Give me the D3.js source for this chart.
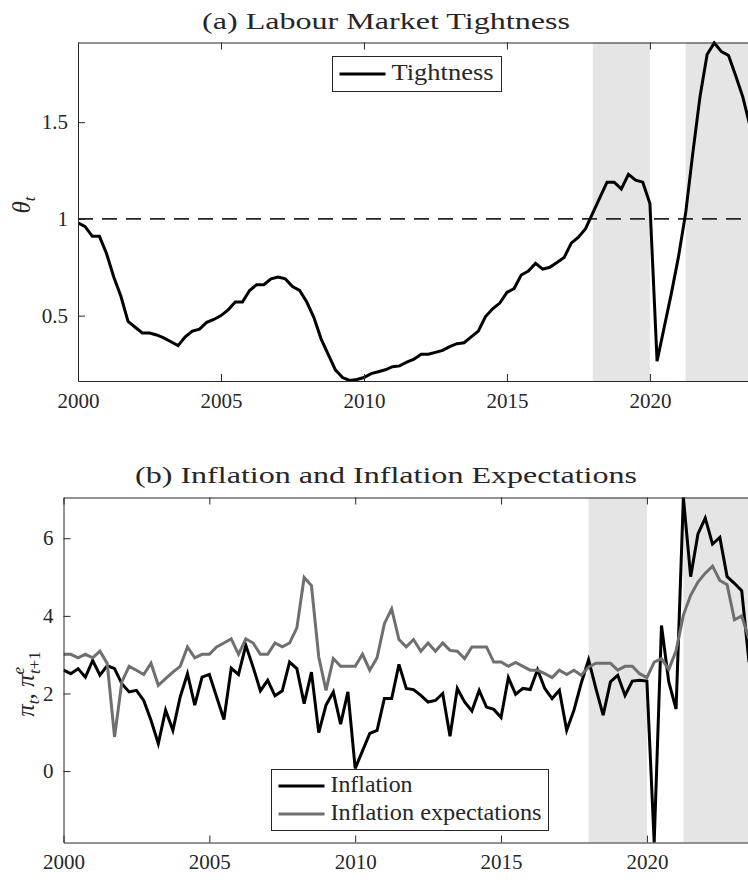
<!DOCTYPE html>
<html>
<head>
<meta charset="utf-8">
<script src="https://cdn.jsdelivr.net/npm/d3@7"></script>
<style>
  body { margin: 0; background: #fff; }
  svg { display: block; }
  text { font-family: "Liberation Serif", serif; fill: #262626; }
</style>
</head>
<body>
<svg id="chart" width="748" height="880"></svg>
<script>
// quarterly data, 2000Q1 .. 2023Q3
const startYear = 2000

const tightness = [
  0.98, 0.96, 0.91, 0.91, 0.82, 0.70, 0.60, 0.47,
  0.44, 0.41, 0.41, 0.40, 0.385, 0.365, 0.345, 0.39,
  0.42, 0.43, 0.465, 0.48, 0.50, 0.53, 0.57, 0.57,
  0.63, 0.66, 0.66, 0.69, 0.70, 0.69, 0.65, 0.63,
  0.57, 0.49, 0.38, 0.30, 0.22, 0.18, 0.165, 0.17,
  0.18, 0.20, 0.21, 0.22, 0.236, 0.24, 0.26, 0.275,
  0.30, 0.30, 0.31, 0.32, 0.34, 0.355, 0.36, 0.39,
  0.42, 0.495, 0.535, 0.565, 0.62, 0.64, 0.71, 0.73,
  0.77, 0.74, 0.75, 0.775, 0.80, 0.875, 0.905, 0.95,
  1.03, 1.11, 1.19, 1.19, 1.155, 1.23, 1.20, 1.19,
  1.08, 0.265, 0.44, 0.615, 0.805, 1.03, 1.34, 1.63,
  1.85, 1.91, 1.865, 1.845, 1.74, 1.63, 1.48
]

const inflation = [
  2.60, 2.51, 2.64, 2.42, 2.85, 2.47, 2.72, 2.64,
  2.25, 2.04, 2.08, 1.82, 1.31, 0.71, 1.57, 1.05,
  1.91, 2.51, 1.70, 2.42, 2.49, 1.91, 1.33, 2.65,
  2.49, 3.24, 2.68, 2.07, 2.34, 1.94, 2.07, 2.81,
  2.64, 1.74, 2.55, 0.99, 1.70, 2.04, 1.21, 2.04,
  0.07, 0.52, 0.97, 1.05, 1.87, 1.87, 2.75, 2.13,
  2.10, 1.95, 1.78, 1.82, 2.00, 0.90, 2.13, 1.78,
  1.55, 2.08, 1.65, 1.59, 1.38, 2.41, 1.98, 2.13,
  2.10, 2.61, 2.13, 1.87, 2.08, 1.05, 1.57, 2.27,
  2.87, 2.13, 1.44, 2.30, 2.47, 1.95, 2.32, 2.34,
  2.32, -1.84, 3.75, 2.30, 1.60, 7.05, 5.01, 6.11,
  6.52, 5.85, 6.02, 5.01, 4.84, 4.65, 2.81
]

const expectations = [
  3.01, 3.01, 2.92, 3.01, 2.92, 3.09, 2.77, 0.88,
  2.30, 2.70, 2.60, 2.49, 2.78, 2.21, 2.38, 2.55,
  2.70, 3.20, 2.92, 3.01, 3.01, 3.20, 3.30, 3.41,
  3.01, 3.41, 3.30, 3.01, 3.01, 3.30, 3.20, 3.30,
  3.69, 4.99, 4.78, 2.94, 2.08, 2.90, 2.70, 2.70,
  2.70, 3.01, 2.60, 2.92, 3.80, 4.18, 3.39, 3.20,
  3.39, 3.09, 3.30, 3.09, 3.30, 3.11, 3.09, 2.90,
  3.20, 3.20, 3.20, 2.81, 2.81, 2.70, 2.80, 2.70,
  2.60, 2.60, 2.51, 2.41, 2.60, 2.49, 2.60, 2.47,
  2.68, 2.78, 2.78, 2.78, 2.60, 2.70, 2.70, 2.51,
  2.41, 2.81, 2.90, 2.62, 3.10, 4.02, 4.53, 4.87,
  5.10, 5.28, 4.91, 4.80, 3.90, 4.00, 3.40
]

const dates = tightness.map((d, i) => startYear + i / 4)

// periods with tightness above one
const shadeStart = [2018, 2021.25]
const shadeEnd = [2020, 2023.5]

const xTicks = [2000, 2005, 2010, 2015, 2020]
const yTicksA = [0.5, 1, 1.5]
const yTicksB = [0, 2, 4, 6]

const svg = d3.select('#chart')
const axisColor = '#262626'

let drawPanel = (opt) => {
  const x = d3.scaleLinear().domain([2000, 2023.5]).range([opt.left, opt.right])
  const y = d3.scaleLinear().domain(opt.yDomain).range([opt.bottom, opt.top])
  const g = svg.append('g')

  const clipId = 'clip-' + opt.id
  g.append('clipPath').attr('id', clipId)
    .append('rect')
    .attr('x', opt.left).attr('y', opt.top - 2)
    .attr('width', opt.right - opt.left).attr('height', opt.bottom - opt.top + 4)

  g.selectAll('rect.shade')
    .data(shadeStart.map((s, i) => [s, shadeEnd[i]]))
    .enter()
    .append('rect')
    .attr('class', 'shade')
    .attr('x', d => x(d[0]))
    .attr('y', opt.top)
    .attr('width', d => x(d[1]) - x(d[0]))
    .attr('height', opt.bottom - opt.top)
    .attr('fill', '#e5e5e5')

  const plot = g.append('g').attr('clip-path', `url(#${clipId})`)

  if (opt.refLine !== undefined) {
    plot.append('line')
      .attr('x1', opt.left).attr('x2', opt.right)
      .attr('y1', y(opt.refLine)).attr('y2', y(opt.refLine))
      .attr('stroke', '#262626')
      .attr('stroke-width', 1.8)
      .attr('stroke-dasharray', '15,9')
  }

  opt.series.forEach(s => {
    plot.append('path')
      .datum(s.values)
      .attr('fill', 'none')
      .attr('stroke', s.color)
      .attr('stroke-width', 3)
      .attr('d', d3.line().x((d, i) => x(dates[i])).y(d => y(d)))
  })

  // axes
  const bottomAxis = g.append('g')
    .attr('transform', `translate(0,${opt.bottom})`)
    .call(d3.axisBottom(x).tickValues(xTicks).tickFormat(d3.format('d'))
      .tickSizeInner(-7).tickSizeOuter(0).tickPadding(12))
  const topAxis = g.append('g')
    .attr('transform', `translate(0,${opt.top})`)
    .call(d3.axisTop(x).tickValues(xTicks).tickFormat('')
      .tickSizeInner(-7).tickSizeOuter(0))
  const leftAxis = g.append('g')
    .attr('transform', `translate(${opt.left},0)`)
    .call(d3.axisLeft(y).tickValues(opt.yTicks).tickFormat(d => String(d))
      .tickSizeInner(-7).tickSizeOuter(0).tickPadding(10))

  ;[bottomAxis, topAxis, leftAxis].forEach(a => {
    a.attr('font-family', null)
    a.select('.domain').attr('stroke', axisColor).attr('stroke-width', 1)
    a.selectAll('.tick line').attr('stroke', axisColor).attr('stroke-width', 1)
    a.selectAll('.tick text')
      .attr('fill', axisColor)
      .style('font-family', '"Liberation Serif", serif')
      .style('font-size', '21px')
  })

  // title, stretched to the reference width
  svg.append('text')
    .attr('x', 386).attr('y', opt.titleY)
    .attr('text-anchor', 'middle')
    .attr('textLength', opt.titleW)
    .attr('lengthAdjust', 'spacingAndGlyphs')
    .style('font-size', '24px')
    .text(opt.title)

  // legend
  const leg = svg.append('g')
  leg.append('rect')
    .attr('x', opt.legend.x).attr('y', opt.legend.y)
    .attr('width', opt.legend.w).attr('height', opt.legend.h)
    .attr('fill', '#fff').attr('stroke', axisColor).attr('stroke-width', 1)
  opt.series.forEach((s, i) => {
    const ly = opt.legend.y + opt.legend.rowY + i * opt.legend.rowH
    leg.append('line')
      .attr('x1', opt.legend.x + 7).attr('x2', opt.legend.x + 53)
      .attr('y1', ly).attr('y2', ly)
      .attr('stroke', s.color).attr('stroke-width', 3)
    leg.append('text')
      .attr('x', opt.legend.x + 59).attr('y', ly + 6)
      .attr('textLength', s.labelW)
      .attr('lengthAdjust', 'spacingAndGlyphs')
      .style('font-size', '23px')
      .text(s.name)
  })
}

drawPanel({
  id: 'a', left: 78, right: 750, top: 42.5, bottom: 381,
  yDomain: [0.162, 1.912], yTicks: yTicksA, refLine: 1,
  title: '(a) Labour Market Tightness', titleY: 29, titleW: 368,
  series: [{ name: 'Tightness', values: tightness, color: '#000', labelW: 102 }],
  legend: { x: 332.5, y: 56.5, w: 169, h: 35, rowY: 17.5, rowH: 0 }
})

drawPanel({
  id: 'b', left: 63.5, right: 749, top: 497.5, bottom: 842.5,
  yDomain: [-1.84, 7.05], yTicks: yTicksB,
  title: '(b) Inflation and Inflation Expectations', titleY: 483, titleW: 502,
  series: [
    { name: 'Inflation', values: inflation, color: '#000', labelW: 82 },
    { name: 'Inflation expectations', values: expectations, color: '#6f6f6f', labelW: 211 }
  ],
  legend: { x: 271.5, y: 769.5, w: 277, h: 61, rowY: 16.5, rowH: 28 }
})

// y labels
const yl1 = svg.append('text')
  .attr('transform', 'translate(30,205) rotate(-90)')
  .attr('text-anchor', 'middle')
yl1.append('tspan').style('font-style', 'italic').style('font-size', '25px').text('θ')
yl1.append('tspan').style('font-style', 'italic').style('font-size', '17px').attr('dy', 5).text('t')

const yl2 = svg.append('text')
  .attr('transform', 'translate(34,684) rotate(-90)')
  .attr('text-anchor', 'middle')
yl2.append('tspan').style('font-style', 'italic').style('font-size', '25px').text('π')
yl2.append('tspan').style('font-style', 'italic').style('font-size', '17px').attr('dy', 5).text('t')
yl2.append('tspan').style('font-size', '25px').attr('dy', -5).text(', ')
yl2.append('tspan').style('font-style', 'italic').style('font-size', '25px').text('π')
yl2.append('tspan').style('font-style', 'italic').style('font-size', '17px').attr('dy', -10).text('e')
yl2.append('tspan').style('font-style', 'italic').style('font-size', '17px').attr('dx', -7).attr('dy', 16).text('t')
yl2.append('tspan').style('font-size', '17px').text('+1')
</script>
</body>
</html>
